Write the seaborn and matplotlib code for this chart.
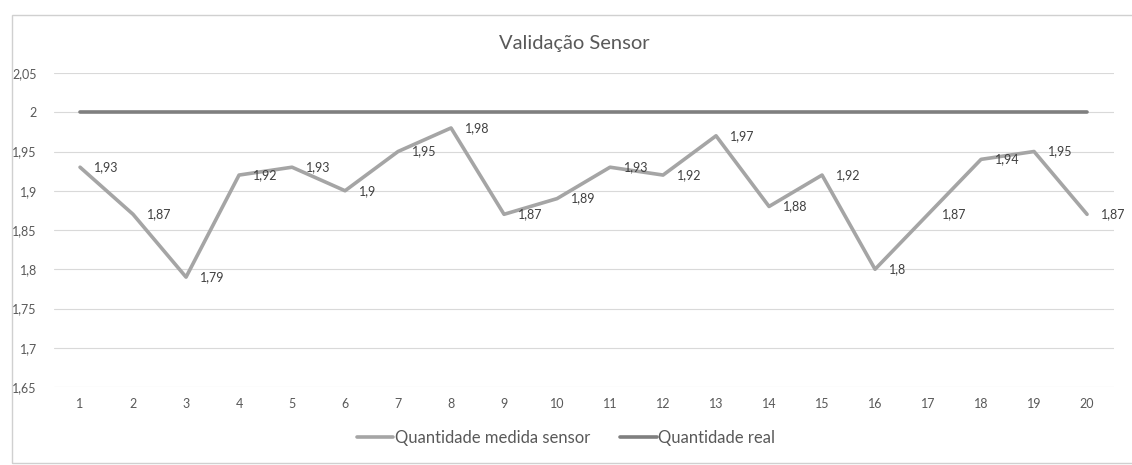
import matplotlib
matplotlib.use("Agg")
import matplotlib.pyplot as plt
import seaborn as sns
import pandas as pd
from matplotlib.patches import Rectangle

# Daten
amostras = list(range(1, 21))
medida_sensor = [1.93, 1.87, 1.79, 1.92, 1.93, 1.90, 1.95, 1.98, 1.87, 1.89,
                 1.93, 1.92, 1.97, 1.88, 1.92, 1.80, 1.87, 1.94, 1.95, 1.87]
quantidade_real = [2.0] * 20
y_ticks = [1.65, 1.70, 1.75, 1.80, 1.85, 1.90, 1.95, 2.00, 2.05]

def virgula(v):
    return f"{v:g}".replace(".", ",")

sns.set_theme(style="white")
plt.rcParams['font.family'] = ['Lato', 'DejaVu Sans']

df = pd.DataFrame({
    'Amostra': amostras * 2,
    'Valor': medida_sensor + quantidade_real,
    'Serie': ['Quantidade medida sensor'] * 20 + ['Quantidade real'] * 20,
})

fig = plt.figure(figsize=(11.32, 4.65), dpi=100)
ax = fig.add_axes([0.0473, 0.1677, 0.9364, 0.6753])

sns.lineplot(data=df, x='Amostra', y='Valor', hue='Serie',
             palette={'Quantidade medida sensor': '#a5a5a5', 'Quantidade real': '#7f7f7f'},
             linewidth=2.6, ax=ax, legend=False)

# Datenbeschriftungen
for x, y in zip(amostras, medida_sensor):
    ax.annotate(virgula(y), (x, y), xytext=(10, 0), textcoords='offset points',
                ha='left', va='center', fontsize=9, color='#404040')

ax.set_xlim(0.5, 20.5)
ax.set_ylim(1.65, 2.05)
ax.set_xticks(amostras)
ax.set_xticklabels([str(a) for a in amostras])
ax.set_yticks(y_ticks)
ax.set_yticklabels([virgula(v) for v in y_ticks])
ax.tick_params(axis='both', length=0, labelsize=9, labelcolor='#595959')
ax.tick_params(axis='y', pad=12)
ax.tick_params(axis='x', pad=8)
ax.grid(axis='y', color='#d9d9d9', linewidth=0.8)
ax.set_axisbelow(True)
for s in ax.spines.values():
    s.set_visible(False)
ax.set_xlabel('')
ax.set_ylabel('')

fig.text(0.507, 0.907, 'Validação Sensor', ha='center', va='center',
         fontsize=14.5, color='#595959')

# Legende
handles = [plt.Line2D([], [], color='#a5a5a5', linewidth=2.6),
           plt.Line2D([], [], color='#7f7f7f', linewidth=2.6)]
fig.legend(handles, ['Quantidade medida sensor', 'Quantidade real'],
           loc='center', bbox_to_anchor=(0.5, 0.058), ncol=2, frameon=False,
           fontsize=12, labelcolor='#595959', handlelength=2.2,
           handletextpad=0.1, columnspacing=1.8)

# Rahmen (rechts ausserhalb des Bildes)
fig.patches.append(Rectangle((0.011, 0.004), 1.0, 0.964, transform=fig.transFigure,
                             fill=False, edgecolor='#d0d0d0', linewidth=1))

fig.savefig('out.png', dpi=100)
